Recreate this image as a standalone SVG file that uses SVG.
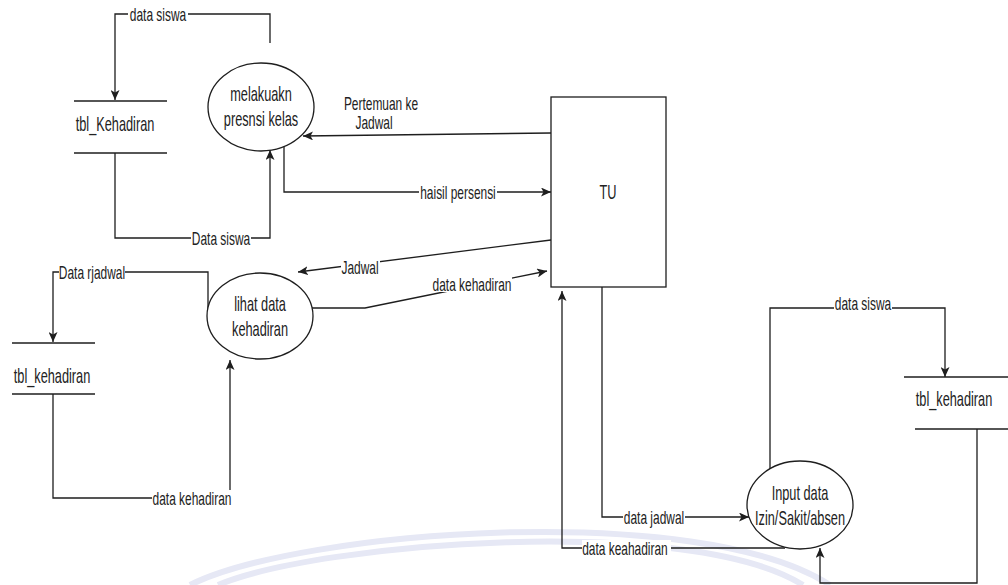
<svg xmlns="http://www.w3.org/2000/svg" width="1008" height="585" viewBox="0 0 1008 585">
<style>
  .ln{fill:none;stroke:#1e1e1e;stroke-width:1.3}
  .ar{marker-end:url(#arr)}
  .sh{fill:#fff;stroke:#1e1e1e;stroke-width:1.3}
  .st{fill:none;stroke:#1e1e1e;stroke-width:1.4}
  text{font-family:"Liberation Sans",Arial,sans-serif;fill:#222;text-anchor:middle;dominant-baseline:central}
  .n{font-size:17px}
  .e{font-size:15.5px}
  .bg{fill:#fff}
  .wm{fill:none;stroke:#e6e8f5;stroke-width:6}
</style>
<defs>
  <marker id="arr" markerUnits="userSpaceOnUse" markerWidth="11" markerHeight="9" refX="10" refY="4.5" orient="auto">
    <path d="M0,0 L10,4.5 L0,9 L2.5,4.5 Z" fill="#1e1e1e"/>
  </marker>
</defs>
<rect width="1008" height="585" fill="#fff"/>
<g id="watermark">
  <path class="wm" d="M190,585 C300,530 700,500 830,585"/>
  <path class="wm" d="M218,585 C320,542 690,514 803,585"/>
</g>
<g id="connectors">
  <path class="ln ar" d="M270,43 V14 H115 V100"/>
  <path class="ln ar" d="M115,153 V238 H270 V150"/>
  <path class="ln ar" d="M284,146 V192 H551"/>
  <path class="ln ar" d="M551,133 L303,136"/>
  <path class="ln ar" d="M551,240 L298,272"/>
  <path class="ln ar" d="M312,308 H365 L547,271"/>
  <path class="ln ar" d="M208,310 V272 H53 V342"/>
  <path class="ln ar" d="M53,394 V498 H230 V360"/>
  <path class="ln ar" d="M602,287 V517 H749"/>
  <path class="ln ar" d="M785,548 H562 V291"/>
  <path class="ln ar" d="M770,471 V308 H945 V377"/>
  <path class="ln ar" d="M977,429 V583 H820 V548"/>
  <rect class="bg" x="128" y="6" width="60" height="16"/>
  <text class="e" transform="translate(158,14) scale(0.77,1.2)">data siswa</text>
  <rect class="bg" x="191" y="230" width="60" height="16"/>
  <text class="e" transform="translate(221,238) scale(0.77,1.2)">Data siswa</text>
  <rect class="bg" x="419" y="184" width="78" height="16"/>
  <text class="e" transform="translate(458,192) scale(0.77,1.2)">haisil persensi</text>
  <text class="e" transform="translate(381,103) scale(0.77,1.2)">Pertemuan ke</text>
  <text class="e" transform="translate(374,122) scale(0.77,1.2)">Jadwal</text>
  <rect class="bg" x="341" y="259" width="39" height="16"/>
  <text class="e" transform="translate(360,267) scale(0.77,1.2)">Jadwal</text>
  <rect class="bg" x="432" y="276" width="80" height="16"/>
  <text class="e" transform="translate(472,284) scale(0.77,1.2)">data kehadiran</text>
  <rect class="bg" x="59" y="264" width="66" height="16"/>
  <text class="e" transform="translate(92,272) scale(0.77,1.2)">Data rjadwal</text>
  <rect class="bg" x="152" y="490" width="79" height="16"/>
  <text class="e" transform="translate(192,498) scale(0.77,1.2)">data kehadiran</text>
  <rect class="bg" x="623" y="509" width="62" height="16"/>
  <text class="e" transform="translate(654,517) scale(0.77,1.2)">data jadwal</text>
  <rect class="bg" x="582" y="540" width="89" height="16"/>
  <text class="e" transform="translate(625,548) scale(0.77,1.2)">data keahadiran</text>
  <rect class="bg" x="834" y="296" width="58" height="14"/>
  <text class="e" transform="translate(863,303) scale(0.77,1.2)">data siswa</text>
</g>
<g id="store-top">
  <line class="st" x1="74" y1="101" x2="167" y2="101"/>
  <line class="st" x1="74" y1="153" x2="167" y2="153"/>
  <text class="n" transform="translate(115,124) scale(0.75,1.2)">tbl_Kehadiran</text>
</g>
<g id="proc-presensi">
  <ellipse class="sh" cx="261" cy="107" rx="53" ry="44"/>
  <text class="n" transform="translate(261,94) scale(0.75,1.2)">melakuakn</text>
  <text class="n" transform="translate(261,119) scale(0.75,1.2)">presnsi kelas</text>
</g>
<g id="tu">
  <rect class="sh" x="551" y="97" width="115" height="190"/>
  <text class="n" transform="translate(608,192) scale(0.75,1.2)">TU</text>
</g>
<g id="proc-lihat">
  <ellipse class="sh" cx="260" cy="316" rx="53" ry="43"/>
  <text class="n" transform="translate(260,304) scale(0.75,1.2)">lihat data</text>
  <text class="n" transform="translate(260,329) scale(0.75,1.2)">kehadiran</text>
</g>
<g id="store-left">
  <line class="st" x1="12" y1="343" x2="95" y2="343"/>
  <line class="st" x1="12" y1="394" x2="95" y2="394"/>
  <text class="n" transform="translate(52,376) scale(0.75,1.2)">tbl_kehadiran</text>
</g>
<g id="proc-input">
  <ellipse class="sh" cx="800" cy="505" rx="53" ry="44"/>
  <text class="n" transform="translate(800,493) scale(0.75,1.2)">Input data</text>
  <text class="n" transform="translate(800,518) scale(0.75,1.2)">Izin/Sakit/absen</text>
</g>
<g id="store-right">
  <line class="st" x1="904" y1="377" x2="1008" y2="377"/>
  <line class="st" x1="915" y1="429" x2="1008" y2="429"/>
  <text class="n" transform="translate(954,399) scale(0.75,1.2)">tbl_kehadiran</text>
</g>
</svg>
